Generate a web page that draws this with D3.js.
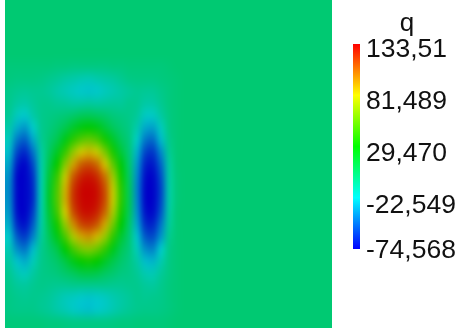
<!DOCTYPE html>
<html>
<head>
<meta charset="utf-8">
<script src="https://cdn.jsdelivr.net/npm/d3@7"></script>
<style>
  html, body { margin: 0; padding: 0; background: #fff; }
  #wrap { position: relative; width: 462px; height: 332px; overflow: hidden; }
  #wrap canvas, #wrap svg { position: absolute; left: 0; top: 0; }
</style>
</head>
<body>
<div id="wrap"></div>
<script>
// ---- data ----
const title = "q";
const vMin = -74.568;
const vMax = 133.51;
const tickValues = [133.51, 81.489, 29.47, -22.549, -74.568];
const tickLabels = ["133,51", "81,489", "29,470", "-22,549", "-74,568"];
const backgroundValue = 0;
// q sampled on a grid (rows top->bottom, columns left->right) over the left part of the domain
const qGrid = [
  [0,0,0,0,0,0,0,0,0,0,0,0,0,0,0,0,0,0,0,0,0,0,0,0],
  [0,0,0,0,0,0,0,0,0,0,0,0,0,0,0,0,0,0,0,0,0,0,0,0],
  [0,0,0,0,0,0,0,0,0,0,0,0,0,0,0,0,0,0,0,0,0,0,0,0],
  [0,0,0,0,0,0,0,0,0,0,0,0,0,0,0,0,0,0,0,0,0,0,0,0],
  [0,0,0,0,0,0,0,0,0,0,0,0,0,0,0,0,0,0,0,0,0,0,0,0],
  [-2,-2,-2,-2,-2,-2,-3,-3,-4,-4,-4,-4,-4,-3,-3,-2,-2,-2,-2,-2,-1,0,0,0],
  [-3,-4,-4,-4,-5,-7,-9,-12,-14,-16,-17,-15,-13,-11,-8,-5,-4,-4,-4,-3,-2,-1,0,0],
  [-6,-8,-9,-8,-8,-10,-14,-17,-20,-23,-24,-23,-19,-16,-13,-10,-8,-9,-9,-6,-3,-1,0,0],
  [-7,-12,-14,-10,-7,-7,-9,-10,-12,-12,-11,-12,-11,-10,-10,-7,-8,-13,-13,-8,-3,-1,0,0],
  [-9,-19,-23,-14,-7,-5,-3,-1,2,6,7,5,2,-2,-4,-6,-10,-20,-21,-12,-4,-1,0,0],
  [-14,-30,-35,-22,-8,-3,2,9,18,25,28,24,15,6,0,-5,-15,-31,-33,-19,-5,-1,0,0],
  [-19,-43,-50,-32,-9,0,9,23,40,51,55,49,35,19,6,-3,-21,-43,-47,-27,-7,-1,0,0],
  [-26,-56,-64,-45,-13,4,20,42,66,82,87,79,60,36,15,-1,-29,-56,-60,-39,-9,-1,0,0],
  [-32,-66,-73,-55,-15,9,31,62,91,108,113,105,84,53,26,2,-35,-65,-68,-48,-12,-1,0,0],
  [-37,-72,-74,-61,-16,14,43,78,109,124,128,122,103,69,34,5,-39,-70,-73,-54,-13,-2,0,0],
  [-39,-72,-74,-63,-16,17,49,87,118,131,133,129,112,78,40,7,-41,-72,-74,-57,-14,-2,0,0],
  [-38,-72,-74,-63,-16,18,50,88,119,131,133,129,113,79,41,8,-40,-72,-74,-56,-14,-2,0,0],
  [-35,-70,-74,-58,-15,15,45,81,112,127,130,124,106,72,36,7,-37,-69,-72,-52,-13,-1,0,0],
  [-30,-63,-70,-51,-14,11,34,66,96,114,118,110,90,58,28,3,-32,-62,-65,-44,-11,-1,0,0],
  [-23,-51,-59,-41,-11,6,23,47,72,90,95,86,67,41,17,0,-25,-51,-55,-36,-8,-1,0,0],
  [-17,-38,-44,-27,-8,1,11,28,46,59,63,56,42,23,8,-2,-18,-38,-41,-23,-6,-1,0,0],
  [-12,-25,-30,-18,-7,-2,3,12,23,31,34,30,20,10,2,-4,-13,-26,-28,-16,-5,-1,0,0],
  [-8,-16,-19,-12,-6,-4,-2,2,6,11,12,10,5,1,-3,-5,-9,-16,-17,-10,-4,-1,0,0],
  [-6,-10,-11,-8,-6,-7,-8,-8,-7,-7,-7,-7,-7,-8,-8,-7,-7,-10,-11,-7,-3,-1,0,0],
  [-5,-7,-8,-7,-8,-10,-14,-18,-20,-23,-24,-23,-20,-16,-13,-10,-7,-8,-7,-6,-3,-1,0,0],
  [-5,-6,-6,-6,-8,-10,-14,-17,-21,-24,-25,-23,-20,-16,-12,-9,-7,-6,-6,-5,-3,-1,0,0],
  [-2,-2,-2,-2,-2,-3,-3,-4,-5,-5,-5,-5,-5,-4,-3,-3,-2,-2,-2,-2,-1,0,0,0]
];

// ---- layout ----
const W = 462, H = 332;
const plotLeft = 5, plotRight = 332, plotTop = 0, plotBottom = 328;
const domainCols = 40.875;           // full domain width in grid cells
const nRows = qGrid.length, nCols = qGrid[0].length;
const shade = 0.79;                  // lighting of the rendered surface

const xScale = d3.scaleLinear().domain([0, domainCols]).range([plotLeft, plotRight]);
const yScale = d3.scaleLinear().domain([0, nRows]).range([plotTop, plotBottom]);

const hue = d3.scaleLinear().domain([vMin, vMax]).range([240, 0]).clamp(true);
const color = v => d3.hsl(hue(v), 1, 0.5).rgb();
const fieldColor = v => { const c = color(v); return d3.rgb(c.r * shade, c.g * shade, c.b * shade); };

const wrap = d3.select("#wrap");

// ---- field (canvas) ----
const canvas = wrap.append("canvas").attr("width", W).attr("height", H).node();
const ctx = canvas.getContext("2d");
ctx.fillStyle = fieldColor(backgroundValue).formatRgb();
ctx.fillRect(xScale(0), yScale(0), xScale(domainCols) - xScale(0), yScale(nRows) - yScale(0));

const small = document.createElement("canvas");
small.width = nCols; small.height = nRows;
const sctx = small.getContext("2d");
const img = sctx.createImageData(nCols, nRows);
qGrid.forEach((row, j) => row.forEach((v, i) => {
  const c = fieldColor(v), k = (j * nCols + i) * 4;
  img.data[k] = Math.round(c.r); img.data[k + 1] = Math.round(c.g);
  img.data[k + 2] = Math.round(c.b); img.data[k + 3] = 255;
}));
sctx.putImageData(img, 0, 0);
ctx.imageSmoothingEnabled = true;
ctx.imageSmoothingQuality = "high";
ctx.drawImage(small, xScale(0), yScale(0), xScale(nCols) - xScale(0), yScale(nRows) - yScale(0));

// ---- legend (svg) ----
const svg = wrap.append("svg").attr("width", W).attr("height", H);
const barX = 353, barW = 7, barTop = 44, barBottom = 249;
const barScale = d3.scaleLinear().domain([vMin, vMax]).range([barBottom, barTop]);
const grad = svg.append("defs").append("linearGradient")
  .attr("id", "cbar").attr("x1", 0).attr("y1", 1).attr("x2", 0).attr("y2", 0);
d3.range(0, 21).forEach(i => {
  const t = i / 20;
  grad.append("stop").attr("offset", t).attr("stop-color", color(vMin + t * (vMax - vMin)).formatHex());
});
svg.append("rect")
  .attr("x", barX).attr("y", barScale(vMax))
  .attr("width", barW).attr("height", barScale(vMin) - barScale(vMax))
  .attr("fill", "url(#cbar)");

const labelY = d3.scaleLinear().domain([vMin, vMax]).range([256, 48]);
svg.selectAll("text.tick").data(tickValues).join("text")
  .attr("class", "tick")
  .attr("x", 366)
  .attr("y", v => Math.min(labelY(v), barScale(vMin)) + 9.3)
  .attr("font-family", "'Liberation Sans', Arial, sans-serif")
  .attr("font-size", 26.5)
  .attr("fill", "#111")
  .text((v, i) => tickLabels[i]);

svg.append("text")
  .attr("x", 407).attr("y", 31)
  .attr("text-anchor", "middle")
  .attr("font-family", "'Liberation Sans', Arial, sans-serif")
  .attr("font-size", 26)
  .attr("fill", "#111")
  .text(title);
</script>
</body>
</html>
